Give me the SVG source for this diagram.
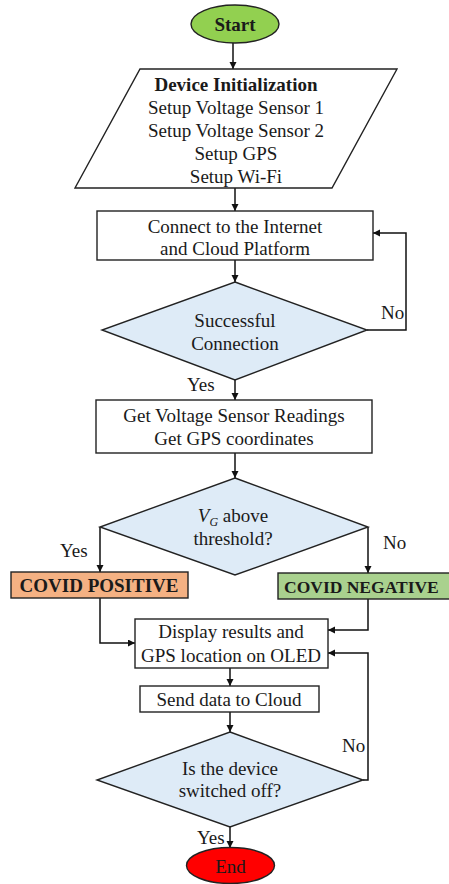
<svg xmlns="http://www.w3.org/2000/svg" width="449" height="884" viewBox="0 0 449 884">
<defs>
<marker id="arr" markerUnits="userSpaceOnUse" markerWidth="8" markerHeight="8" refX="7" refY="3.5" orient="auto">
<path d="M0,0 L7,3.5 L0,7 z" fill="#111"/>
</marker>
<style>
.sh{stroke:#222;stroke-width:1.4}
.box{fill:#fff}
.dia{fill:#DEEBF7}
.t{font-family:"Liberation Serif","Times New Roman",serif;font-size:19px;fill:#1a1a1a;text-anchor:middle}
.b{font-weight:bold}
.l{font-family:"Liberation Serif","Times New Roman",serif;font-size:19px;fill:#1a1a1a}
.c{fill:none;stroke:#111;stroke-width:1.5;marker-end:url(#arr)}
</style>
</defs>
<rect width="449" height="884" fill="#fff"/>
<g id="connectors">
<path class="c" d="M233,43 L233,69"/>
<path class="c" d="M235,188 L235,211"/>
<path class="c" d="M235,260 L235,282"/>
<path class="c" d="M367,330 L406,330 L406,233 L373,233"/>
<path class="c" d="M235,380 L235,400"/>
<path class="c" d="M235,453 L235,478"/>
<path class="c" d="M100,527 L100,572"/>
<path class="c" d="M368,527 L368,573"/>
<path class="c" d="M100,598 L100,643 L135,643"/>
<path class="c" d="M368,599 L368,630 L328,630"/>
<path class="c" d="M230,668 L230,686"/>
<path class="c" d="M230,712 L230,732"/>
<path class="c" d="M363,780 L368,780 L368,653 L328,653"/>
<path class="c" d="M230,827 L230,848"/>
<text class="l" x="381" y="319">No</text>
<text class="l" x="187" y="391">Yes</text>
<text class="l" x="60" y="557">Yes</text>
<text class="l" x="383" y="549">No</text>
<text class="l" x="342" y="752">No</text>
<text class="l" x="197" y="844">Yes</text>
</g>
<g id="start">
<ellipse class="sh" cx="235" cy="24" rx="44" ry="19" fill="#92D050"/>
<text class="t b" x="235" y="31">Start</text>
</g>
<g id="init">
<polygon class="sh box" points="140,69 397,69 332,188 75,188"/>
<text class="t b" x="236" y="91">Device Initialization</text>
<text class="t" x="236" y="114">Setup Voltage Sensor 1</text>
<text class="t" x="236" y="137">Setup Voltage Sensor 2</text>
<text class="t" x="236" y="160">Setup GPS</text>
<text class="t" x="236" y="183">Setup Wi-Fi</text>
</g>
<g id="connect">
<rect class="sh box" x="97" y="211" width="276" height="49"/>
<text class="t" x="235" y="233">Connect to the Internet</text>
<text class="t" x="235" y="255">and Cloud Platform</text>
</g>
<g id="success">
<polygon class="sh dia" points="235,282 367,330 235,380 102,330"/>
<text class="t" x="235" y="327">Successful</text>
<text class="t" x="235" y="350">Connection</text>
</g>
<g id="readings">
<rect class="sh box" x="96" y="400" width="276" height="53"/>
<text class="t" x="234" y="422">Get Voltage Sensor Readings</text>
<text class="t" x="234" y="445">Get GPS coordinates</text>
</g>
<g id="threshold">
<polygon class="sh dia" points="235,478 368,527 235,575 100,527"/>
<text class="t" x="233" y="522"><tspan font-style="italic">V</tspan><tspan font-style="italic" font-size="12" dy="4">G</tspan><tspan dy="-4"> above</tspan></text>
<text class="t" x="233" y="545">threshold?</text>
</g>
<g id="positive">
<rect class="sh" x="11" y="572" width="177" height="26" fill="#F4B183"/>
<text class="t b" x="99" y="592">COVID POSITIVE</text>
</g>
<g id="negative">
<rect class="sh" x="278" y="573" width="172" height="26" fill="#A9D18E"/>
<text class="l b" x="284" y="593" style="font-size:17.5px">COVID NEGATIVE</text>
</g>
<g id="display">
<rect class="sh box" x="135" y="619" width="193" height="49"/>
<text class="t" x="231" y="638">Display results and</text>
<text class="t" x="231" y="662">GPS location on OLED</text>
</g>
<g id="send">
<rect class="sh box" x="140" y="686" width="179" height="26"/>
<text class="t" x="229" y="706">Send data to Cloud</text>
</g>
<g id="switched">
<polygon class="sh dia" points="230,732 363,780 230,827 97,780"/>
<text class="t" x="230" y="775">Is the device</text>
<text class="t" x="230" y="797">switched off?</text>
</g>
<g id="end">
<ellipse class="sh" cx="230.5" cy="865.5" rx="44" ry="18" fill="#FF0000"/>
<text class="t" x="230.5" y="873">End</text>
</g>
</svg>
